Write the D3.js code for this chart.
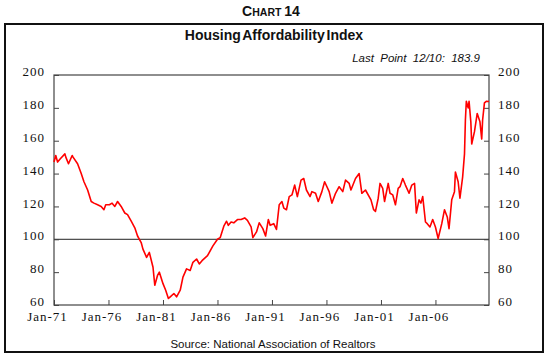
<!DOCTYPE html>
<html><head><meta charset="utf-8">
<script src="https://cdnjs.cloudflare.com/ajax/libs/d3/7.8.5/d3.min.js"></script>
<style>html,body{margin:0;padding:0;background:#fff;}svg{display:block;}</style>
</head><body><div id="chart"></div>
<script>
const months = ["1971-01","1971-03","1971-05","1971-08","1972-01","1972-02","1972-05","1972-09","1972-10","1973-03","1973-07","1973-10","1974-02","1974-06","1974-09","1975-01","1975-05","1975-08","1975-10","1976-02","1976-05","1976-08","1976-11","1977-03","1977-07","1977-10","1978-02","1978-06","1978-09","1979-01","1979-03","1979-07","1979-10","1980-02","1980-04","1980-07","1980-09","1981-01","1981-04","1981-07","1981-09","1982-01","1982-04","1982-08","1982-11","1983-03","1983-07","1983-10","1984-02","1984-05","1984-08","1985-02","1985-08","1986-01","1986-04","1986-08","1986-11","1987-01","1987-04","1987-07","1987-11","1988-03","1988-07","1988-10","1989-02","1989-04","1989-08","1989-11","1990-03","1990-06","1990-09","1990-11","1991-03","1991-06","1991-09","1991-12","1992-02","1992-05","1992-08","1992-11","1993-02","1993-05","1993-09","1993-12","1994-03","1994-07","1994-09","1995-01","1995-04","1995-08","1995-11","1996-04","1996-07","1996-11","1997-03","1997-07","1997-10","1998-02","1998-04","1998-09","1999-01","1999-04","1999-08","2000-02","2000-05","2000-07","2000-10","2000-12","2001-03","2001-05","2001-09","2001-11","2002-02","2002-05","2002-08","2002-10","2003-01","2003-04","2003-08","2003-11","2004-02","2004-04","2004-07","2004-09","2004-11","2005-02","2005-04","2005-07","2005-10","2006-01","2006-04","2006-08","2006-11","2007-02","2007-04","2007-07","2007-10","2007-11","2008-02","2008-04","2008-07","2008-09","2008-10","2008-11","2009-01","2009-02","2009-04","2009-05","2009-08","2009-11","2010-02","2010-04","2010-05","2010-07","2010-09","2010-12"];
const values = [147,151,147,149,152,150,146,151,150,146,140,135,130,123,122,121,120,118,121,121,122,120,123,120,116,115,111,107,102,98,94,89,92,83,72,78,80,73,69,64,65,67,65,69,77,82,81,86,88,85,87,90,96,100,101,108,111,108.5,110.5,110,112,112,113,111.5,107.5,101,104.5,110,106.5,102,112,108.5,109.5,106,121,123,119,118,126,127,133,126,136,137,130,126,129,128,123,129,135,129,122,128,132,129,136,134,130,137,140,128,130,124,118,117,125,134,131,123,134,128,127,121,131,132,137,133,128,133,134,116,124,122,126,110.5,109.5,107.5,112,107.5,100.5,109.5,118,113.6,106.5,124,129,141,135,125,138,152,172.6,184,180,184,171.5,158,165.5,176.6,171.5,161,172.6,183,184,183.9];
const xTickLabels = ["Jan-71","Jan-76","Jan-81","Jan-86","Jan-91","Jan-96","Jan-01","Jan-06"];
const yTicks = [60,80,100,120,140,160,180,200];
const refValue = 100;
const lastPointLabel = "Last  Point  12/10:  183.9";

const W = 547, H = 362;
const parse = d3.timeParse("%Y-%m");
const data = months.map((m, i) => ({date: parse(m), value: values[i]}));

const svg = d3.select("#chart").append("svg").attr("width", W).attr("height", H);
const L = 54, R = 489, T = 75, B = 305;

const x = d3.scaleTime().domain([parse("1971-01"), parse("2010-12")]).range([L, R]);
const y = d3.scaleLinear().domain([60, 200]).range([B, T]);

// outer frame
svg.append("rect").attr("x", 5).attr("y", 24).attr("width", 538).attr("height", 328)
  .attr("fill", "none").attr("stroke", "#111").attr("stroke-width", 2);

// chart number
const ct = svg.append("text").attr("x", 271).attr("y", 16).attr("text-anchor", "middle")
  .attr("font-family", "Liberation Sans, Arial, sans-serif").attr("font-weight", "bold").attr("fill", "#111");
ct.append("tspan").attr("font-size", 14).text("C");
ct.append("tspan").attr("font-size", 10.5).text("HART ");
ct.append("tspan").attr("font-size", 14).text("14");

svg.append("text").attr("x", 274).attr("y", 40).attr("text-anchor", "middle")
  .attr("font-family", "Liberation Sans, Arial, sans-serif").attr("font-weight", "bold")
  .attr("font-size", 14).attr("word-spacing", -2).attr("fill", "#111").text("Housing Affordability Index");

svg.append("text").attr("x", 480).attr("y", 62).attr("text-anchor", "end")
  .attr("font-family", "Liberation Sans, Arial, sans-serif").attr("font-style", "italic")
  .attr("font-size", 11.5).attr("fill", "#111").style("white-space", "pre").text(lastPointLabel);

// plot box
const g = svg.append("g");
g.append("rect").attr("x", L).attr("y", T).attr("width", R - L).attr("height", B - T)
  .attr("fill", "none").attr("stroke", "#444").attr("stroke-width", 1.2);

// ref line
g.append("line").attr("x1", L).attr("x2", R).attr("y1", y(refValue)).attr("y2", y(refValue))
  .attr("stroke", "#222").attr("stroke-width", 1);

const serif = "Liberation Serif, Times New Roman, serif";
// y axes
const yLeft = d3.axisLeft(y).tickValues(yTicks).tickSize(-5).tickPadding(9).tickFormat(d3.format("d"));
const yRight = d3.axisRight(y).tickValues(yTicks).tickSize(-5).tickPadding(9).tickFormat(d3.format("d"));
function styleAxis(sel) {
  sel.select(".domain").remove();
  sel.selectAll("line").attr("stroke", "#444");
  sel.selectAll("text").attr("font-family", serif).attr("font-size", 13).attr("letter-spacing", 1).attr("fill", "#111");
}
svg.append("g").attr("transform", `translate(${L},0)`).call(yLeft).call(styleAxis)
  .selectAll("text").attr("dy", "0.05em");
svg.append("g").attr("transform", `translate(${R},0)`).call(yRight).call(styleAxis)
  .selectAll("text").attr("dy", "0.05em");

// x axis
const xTickDates = xTickLabels.map(s => d3.timeParse("%b-%y")(s));
const xAxis = d3.axisBottom(x).tickValues(xTickDates).tickSize(-5).tickPadding(7)
  .tickFormat((d, i) => xTickLabels[i]);
const xg = svg.append("g").attr("transform", `translate(0,${B})`).call(xAxis).call(styleAxis);
xg.selectAll("text").attr("dx", -7);

// line
const line = d3.line().x(d => x(d.date)).y(d => y(d.value)).curve(d3.curveLinear);
svg.append("path").datum(data).attr("d", line).attr("fill", "none")
  .attr("stroke", "#ff0000").attr("stroke-width", 1.6).attr("stroke-linejoin", "round");

svg.append("text").attr("x", 273).attr("y", 348).attr("text-anchor", "middle")
  .attr("font-family", "Liberation Sans, Arial, sans-serif").attr("font-size", 11.5)
  .attr("fill", "#111").text("Source: National Association of Realtors");
</script></body></html>
